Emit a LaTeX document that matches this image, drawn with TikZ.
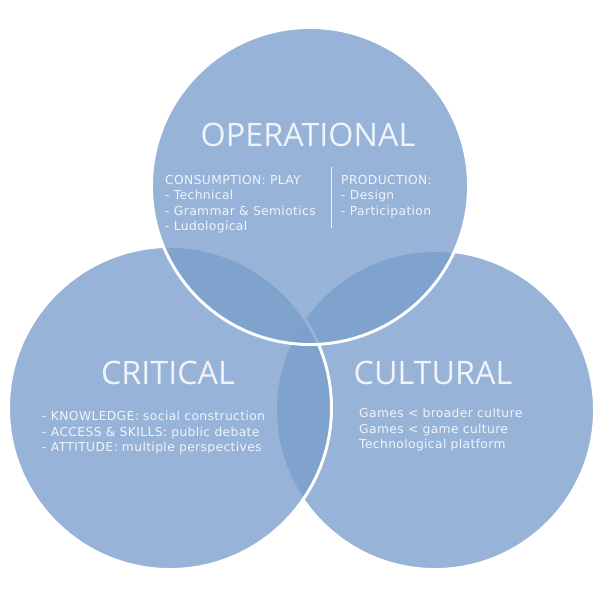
\documentclass[tikz,border=0pt]{standalone}
\usepackage{fontspec}
\setmainfont{DejaVu Sans}
\newfontfamily\headfont{Open Sans}
\newfontfamily\bodyfont[LetterSpace=3]{DejaVu Sans}
\usetikzlibrary{positioning}

\definecolor{vennblue}{RGB}{122,158,204}
\definecolor{venntext}{RGB}{240,244,250}

\begin{document}
\begin{tikzpicture}[
  x=0.03cm, y=-0.03cm,
  ring/.style={circle, draw=white, line width=2.5pt, fill=vennblue, fill opacity=0.78, draw opacity=1},
  head/.style={font=\headfont\fontsize{27.6}{30}\selectfont, text=venntext},
  items/.style={font=\bodyfont\fontsize{10.5}{13.2}\selectfont, text=venntext, align=left, inner sep=0pt, anchor=north west},
  divider/.style={draw=venntext, line width=0.8pt}
]
\useasboundingbox (0,0) rectangle (610,593);

% Circles
\node[ring, minimum size=9.57cm] (cultural) at (435,410) {};
\node[ring, minimum size=9.69cm] (critical) at (170,408) {};
\node[ring, minimum size=9.51cm] (operational) at (310,186) {};

% Titles
\node[head] (opTitle) at (308,135) {OPERATIONAL};
\node[head] (critTitle) at (168,373) {CRITICAL};
\node[head] (cultTitle) at (433,373) {CULTURAL};

% Operational
\node[items] (consume) at (165,175) {CONSUMPTION: PLAY\\- Technical\\- Grammar \& Semiotics\\- Ludological};
\node[items] (produce) at (341,175) {PRODUCTION:\\- Design\\- Participation};
\coordinate (divTop) at (331,167);
\coordinate (divBot) at (331,228);
\draw[divider] (divTop) -- (divBot);

% Critical
\node[items] (critItems) at (42,411) {- KNOWLEDGE: social construction\\- ACCESS \& SKILLS: public debate\\- ATTITUDE: multiple perspectives};

% Cultural
\node[items] (cultItems) at (359,408) {Games < broader culture\\Games < game culture\\Technological platform};
\end{tikzpicture}
\end{document}
